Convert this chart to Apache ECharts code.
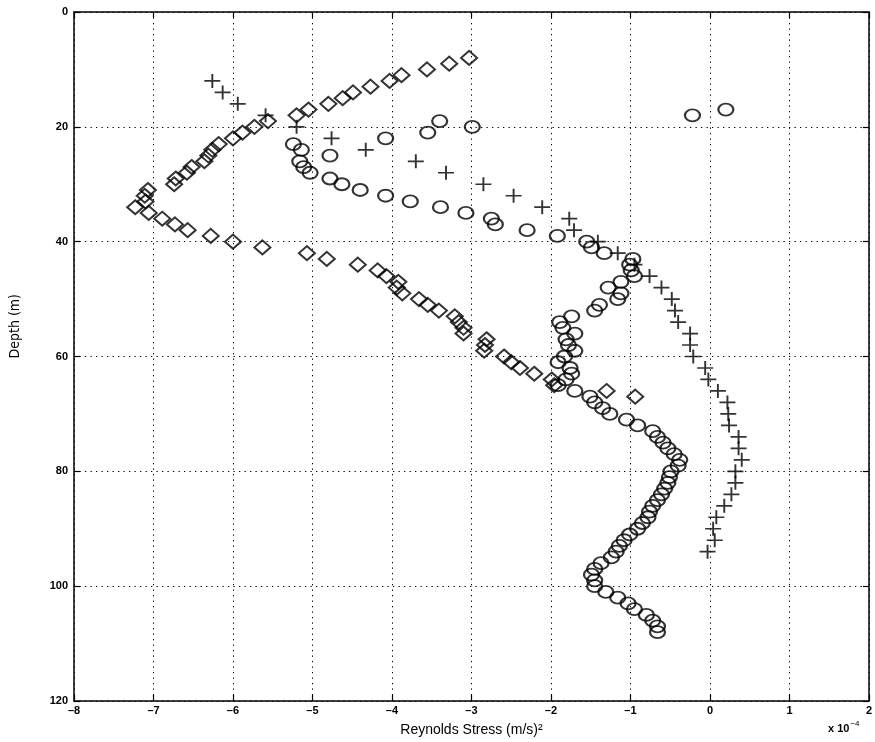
<!DOCTYPE html>
<html>
<head>
    <meta charset="utf-8">
    <script src="https://cdn.jsdelivr.net/npm/echarts@6/dist/echarts.min.js"></script>
    <style>
        body { margin: 0; background: #fff; }
        #main { width: 875px; height: 742px; }
    </style>
</head>
<body>
    <div id="main"></div>

    <script type="text/javascript">
        // Reynolds stress (x 10^-4 (m/s)^2) against depth (m)
        var diamondDepth = [8, 9, 10, 11, 12, 13, 14, 15, 16, 17, 18, 19, 20, 21, 22, 23, 24, 25, 26, 27,
            28, 29, 30, 31, 32, 33, 34, 35, 36, 37, 38, 39, 40, 41, 42, 43, 44, 45, 46, 47,
            48, 49, 50, 51, 52, 53, 54, 55, 56, 57, 58, 59, 60, 61, 62, 63, 64, 65, 66, 67];
        var diamondStress = [-3.03, -3.28, -3.56, -3.88, -4.03, -4.27, -4.49, -4.62, -4.80, -5.05,
            -5.20, -5.56, -5.73, -5.88, -6.00, -6.18, -6.26, -6.31, -6.36, -6.52,
            -6.58, -6.72, -6.74, -7.07, -7.11, -7.10, -7.23, -7.06, -6.89, -6.73,
            -6.57, -6.28, -6.00, -5.63, -5.07, -4.82, -4.43, -4.18, -4.07, -3.92,
            -3.94, -3.87, -3.66, -3.55, -3.41, -3.21, -3.16, -3.10, -3.10, -2.81,
            -2.83, -2.84, -2.59, -2.50, -2.39, -2.21, -1.99, -1.96, -1.30, -0.94];

        var circleDepth = [17, 18, 19, 20, 21, 22, 23, 24, 25, 26, 27, 28, 29, 30, 31, 32, 33, 34, 35, 36,
            37, 38, 39, 40, 41, 42, 43, 44, 45, 46, 47, 48, 49, 50, 51, 52, 53, 54, 55, 56,
            57, 58, 59, 60, 61, 62, 63, 64, 65, 66, 67, 68, 69, 70, 71, 72, 73, 74, 75, 76,
            77, 78, 79, 80, 81, 82, 83, 84, 85, 86, 87, 88, 89, 90, 91, 92, 93, 94, 95, 96,
            97, 98, 99, 100, 101, 102, 103, 104, 105, 106, 107, 108];
        var circleStress = [0.20, -0.22, -3.40, -2.99, -3.55, -4.08, -5.24, -5.14, -4.78, -5.16,
            -5.11, -5.03, -4.78, -4.63, -4.40, -4.08, -3.77, -3.39, -3.07, -2.75,
            -2.70, -2.30, -1.92, -1.55, -1.49, -1.33, -0.97, -1.01, -0.99, -0.95,
            -1.12, -1.28, -1.12, -1.16, -1.39, -1.45, -1.74, -1.89, -1.85, -1.70,
            -1.81, -1.78, -1.70, -1.83, -1.91, -1.76, -1.74, -1.81, -1.91, -1.70,
            -1.51, -1.45, -1.35, -1.26, -1.05, -0.91, -0.72, -0.66, -0.59, -0.53,
            -0.45, -0.38, -0.40, -0.49, -0.51, -0.53, -0.57, -0.61, -0.66, -0.72,
            -0.76, -0.78, -0.85, -0.91, -1.01, -1.08, -1.14, -1.18, -1.24, -1.37,
            -1.45, -1.49, -1.45, -1.45, -1.31, -1.16, -1.03, -0.95, -0.80, -0.72,
            -0.66, -0.66];

        var plusDepth = [12, 14, 16, 18, 20, 22, 24, 26, 28, 30, 32, 34, 36, 38, 40, 42, 44, 46, 48, 50,
            52, 54, 56, 58, 60, 62, 64, 66, 68, 70, 72, 74, 76, 78, 80, 82, 84, 86, 88, 90,
            92, 94];
        var plusStress = [-6.26, -6.13, -5.94, -5.59, -5.20, -4.76, -4.33, -3.70, -3.32, -2.85,
            -2.47, -2.11, -1.77, -1.71, -1.41, -1.16, -0.95, -0.76, -0.61, -0.48,
            -0.44, -0.40, -0.25, -0.25, -0.21, -0.06, -0.02, 0.10, 0.22, 0.23,
            0.24, 0.36, 0.36, 0.40, 0.32, 0.32, 0.27, 0.18, 0.08, 0.04,
            0.06, -0.03];

        var xTicks = [-8, -7, -6, -5, -4, -3, -2, -1, 0, 1, 2];
        var yTicks = [0, 20, 40, 60, 80, 100, 120];

        function pairs(xs, ys) {
            return xs.map(function (x, i) { return [x, ys[i]]; });
        }

        var font = 'Liberation Sans, Arial, sans-serif';
        var dotted = { color: '#000', width: 1, type: [1.3, 4.2] };
        var frameLine = { onZero: false, lineStyle: { color: '#000', width: 1.5 } };
        var frameTick = { inside: true, length: 6, lineStyle: { color: '#000', width: 1.2 } };

        var myChart = echarts.init(document.getElementById('main'), null, { renderer: 'canvas' });
        myChart.setOption({
            animation: false,
            backgroundColor: '#fff',
            grid: { left: 74, right: 6, top: 12, bottom: 40, containLabel: false },
            xAxis: [{
                type: 'value',
                min: xTicks[0], max: xTicks[xTicks.length - 1], interval: 1,
                position: 'bottom',
                name: 'Reynolds Stress (m/s)\u00B2',
                nameLocation: 'middle',
                nameGap: 22,
                nameTextStyle: { fontFamily: font, fontSize: 14, color: '#000' },
                axisLine: frameLine,
                axisTick: frameTick,
                axisLabel: { fontFamily: font, fontSize: 11, fontWeight: 'bold', color: '#000', margin: 4,
                    formatter: function (v) { return v < 0 ? '\u2013' + (-v) : '' + v; } },
                splitLine: { show: true, lineStyle: dotted }
            }, {
                type: 'value',
                min: xTicks[0], max: xTicks[xTicks.length - 1], interval: 1,
                position: 'top',
                axisLine: frameLine,
                axisTick: frameTick,
                axisLabel: { show: false },
                splitLine: { show: false }
            }],
            yAxis: [{
                type: 'value',
                inverse: true,
                min: yTicks[0], max: yTicks[yTicks.length - 1], interval: 20,
                position: 'left',
                axisLine: frameLine,
                axisTick: frameTick,
                axisLabel: { fontFamily: font, fontSize: 11, fontWeight: 'bold', color: '#000', margin: 6 },
                splitLine: { show: true, lineStyle: dotted }
            }, {
                type: 'value',
                inverse: true,
                min: yTicks[0], max: yTicks[yTicks.length - 1], interval: 20,
                position: 'right',
                axisLine: frameLine,
                axisTick: frameTick,
                axisLabel: { show: false },
                splitLine: { show: false }
            }],
            graphic: [{
                type: 'text',
                left: 8, top: 294,
                rotation: Math.PI / 2,
                style: { text: 'Depth (m)', font: '14px "Liberation Sans Narrow", "DejaVu Sans Condensed", sans-serif', fill: '#000' }
            }, {
                type: 'text',
                left: 828, top: 720,
                style: {
                    text: '{a|x 10}{b|\u22124}',
                    rich: {
                        a: { fontFamily: font, fontSize: 11, fontWeight: 'bold', fill: '#000', padding: [6, 0, 0, 0] },
                        b: { fontFamily: font, fontSize: 8, fill: '#000', padding: [0, 0, 4, 1] }
                    }
                }
            }],
            series: [{
                type: 'scatter',
                data: pairs(diamondStress, diamondDepth),
                symbol: 'diamond',
                symbolSize: [16, 14],
                itemStyle: { color: 'rgba(0,0,0,0)', borderColor: '#000', borderWidth: 2 },
                z: 3
            }, {
                type: 'scatter',
                data: pairs(circleStress, circleDepth),
                symbol: 'circle',
                symbolSize: [15, 12],
                itemStyle: { color: 'rgba(0,0,0,0)', borderColor: '#000', borderWidth: 2 },
                z: 3
            }, {
                type: 'scatter',
                data: pairs(plusStress, plusDepth),
                symbol: 'path://M0,50L100,50M50,0L50,100',
                symbolSize: [16, 14],
                itemStyle: { color: 'rgba(0,0,0,0)', borderColor: '#000', borderWidth: 1.8 },
                z: 3
            }]
        });
    </script>
</body>
</html>
